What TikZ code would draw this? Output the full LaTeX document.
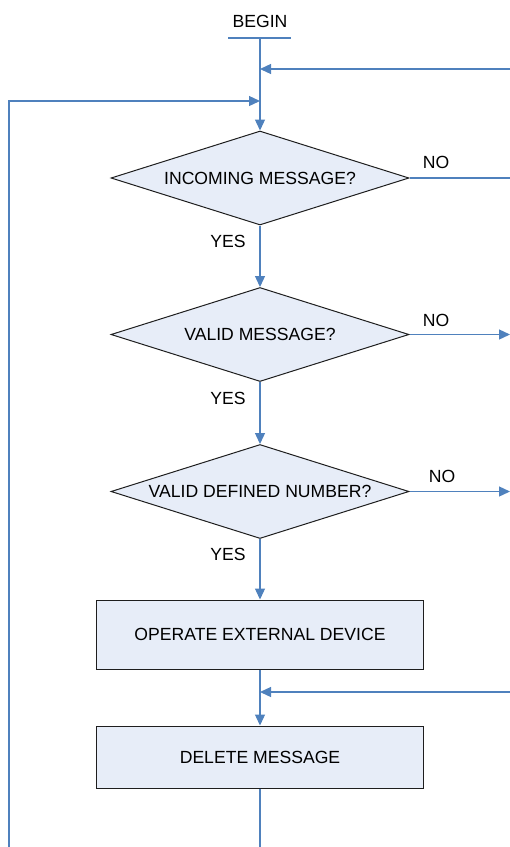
\documentclass[tikz,border=0pt]{standalone}
\usepackage{fontspec}
\setmainfont{Liberation Sans}
\usetikzlibrary{shapes.geometric,arrows.meta}
\definecolor{conn}{HTML}{4F81BD}
\definecolor{boxfill}{HTML}{E7EDF8}
\definecolor{boxline}{HTML}{1E1E1E}
\tikzset{
  lbl/.style={font=\fontsize{17.6}{20}\selectfont, text=black, inner sep=0pt},
  dec/.style={diamond, draw=boxline, fill=boxfill, line width=1pt, minimum width=298pt, minimum height=94pt, inner sep=0pt, aspect=3.17, font=\fontsize{17.6}{20}\selectfont},
  procbox/.style={rectangle, draw=boxline, fill=boxfill, line width=1pt, minimum width=327pt, inner sep=0pt, font=\fontsize{17.6}{20}\selectfont},
  link/.style={draw=conn, line width=1.3pt},
  arr/.style={-{Triangle[length=11pt,width=10pt]}, color=conn}
}
\begin{document}
\begin{tikzpicture}[x=1pt,y=-1pt]
\useasboundingbox (0,0) rectangle (510,847);
% start
\node[lbl] (begin) at (260,21) {BEGIN};
\coordinate (bl) at (228,38);
\coordinate (br) at (291,38);
\coordinate (b) at (260,38);
\draw[link] (bl) -- (br);
% shapes
\node[dec] (d1) at (260,178) {\raisebox{-1pt}{INCOMING MESSAGE?}};
\node[dec] (d2) at (260,334.5) {\raisebox{-1pt}{VALID MESSAGE?}};
\node[dec] (d3) at (260,491.5) {\raisebox{-1pt}{VALID DEFINED NUMBER?}};
\node[procbox, minimum height=69pt] (p1) at (260,634.5) {\raisebox{-1pt}{OPERATE EXTERNAL DEVICE}};
\node[procbox, minimum height=62pt] (p2) at (260,757) {\raisebox{-1pt}{DELETE MESSAGE}};
% junctions and free ends
\coordinate (j1) at (260,69);
\coordinate (r1) at (510,69);
\coordinate (j2) at (260,101);
\coordinate (lb) at (9,847);
\coordinate (r2) at (510,178);
\coordinate (r3) at (510,334.5);
\coordinate (r4) at (510,491.5);
\coordinate (j3) at (260,692);
\coordinate (r5) at (510,692);
\coordinate (bot) at (260,847);
% connectors
\draw[link] (b) -- (j2);
\draw[link,arr] (r1) -- (j1);
\draw[link,arr] (lb) |- (j2);
\draw[link,arr] (j2) -- (d1.north);
\draw[link] (d1.east) -- (r2);
\draw[link,arr] (d1.south) -- (d2.north);
\draw[link,arr] (d2.east) -- (r3);
\draw[link,arr] (d2.south) -- (d3.north);
\draw[link,arr] (d3.east) -- (r4);
\draw[link,arr] (d3.south) -- (p1.north);
\draw[link] (p1.south) -- (j3);
\draw[link,arr] (r5) -- (j3);
\draw[link,arr] (j3) -- (p2.north);
\draw[link] (p2.south) -- (bot);
% labels
\node[lbl] at (436,162) {NO};
\node[lbl] at (436,320) {NO};
\node[lbl] at (442,476) {NO};
\node[lbl] at (228,241) {YES};
\node[lbl] at (228,398) {YES};
\node[lbl] at (228,554) {YES};
\end{tikzpicture}
\end{document}
